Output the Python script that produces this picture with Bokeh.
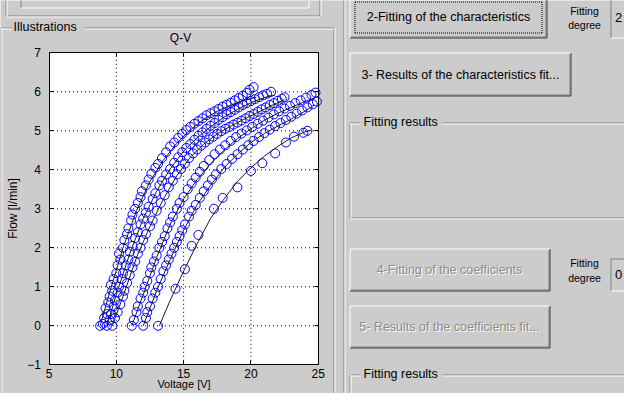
from bokeh.plotting import figure
from bokeh.models import Range1d, LinearAxis, FixedTicker
from bokeh.embed import file_html
from bokeh.resources import INLINE
from bokeh.core.properties import value

# ---------------- data ----------------
X_TICKS = [5, 10, 15, 20, 25]
Y_TICKS = [-1, 0, 1, 2, 3, 4, 5, 6, 7]

a_x = [8.8, 9.0, 9.1, 9.3, 9.2, 9.4, 9.5, 9.7, 9.6, 9.8, 10.0, 10.1, 10.3, 10.2, 10.5, 10.6, 10.8, 10.9, 11.1, 11.2,
       11.4, 11.6, 11.8, 11.9, 12.2, 12.4, 12.6, 12.9, 13.1, 13.4, 13.7, 14.0, 14.3, 14.6, 14.9, 15.2, 15.5, 15.8,
       16.1, 16.4, 16.7, 17.0, 17.3, 17.6, 17.9, 18.2, 18.5, 18.8, 19.1, 19.4, 19.7, 19.9, 20.2]
a_y = [0.0, 0.05, 0.2, 0.3, 0.45, 0.6, 0.75, 0.9, 1.05, 1.2, 1.35, 1.55, 1.7, 1.85, 2.0, 2.2, 2.35, 2.5, 2.7, 2.85,
       3.0, 3.15, 3.3, 3.45, 3.6, 3.75, 3.9, 4.05, 4.15, 4.3, 4.45, 4.6, 4.7, 4.82, 4.92, 5.02, 5.1, 5.18,
       5.25, 5.32, 5.4, 5.45, 5.5, 5.56, 5.62, 5.67, 5.72, 5.78, 5.84, 5.9, 5.97, 6.05, 6.12]

b_x = [9.3, 9.5, 9.6, 9.8, 9.9, 10.1, 10.2, 10.4, 10.5, 10.7, 10.9, 11.0, 11.2, 11.4, 11.6, 11.8, 12.0, 12.2, 12.4,
       12.7, 12.9, 13.2, 13.4, 13.7, 14.0, 14.3, 14.6, 14.9, 15.2, 15.5, 15.8, 16.1, 16.4, 16.7, 17.0, 17.3, 17.6,
       17.9, 18.2, 18.5, 18.8, 19.1, 19.4, 19.7, 20.0, 20.3, 20.6, 20.9, 21.2, 21.5]
b_y = [0.0, 0.15, 0.3, 0.5, 0.65, 0.85, 1.0, 1.2, 1.35, 1.55, 1.7, 1.9, 2.05, 2.25, 2.4, 2.6, 2.75, 2.9, 3.05,
       3.25, 3.4, 3.6, 3.72, 3.88, 4.02, 4.18, 4.32, 4.45, 4.56, 4.66, 4.77, 4.87, 4.96, 5.05, 5.13, 5.2, 5.28,
       5.35, 5.42, 5.48, 5.54, 5.6, 5.66, 5.71, 5.76, 5.81, 5.86, 5.91, 5.95, 6.0]

c_x = [9.7, 9.9, 10.1, 10.3, 10.5, 10.6, 10.8, 11.0, 11.2, 11.4, 11.6, 11.8, 12.0, 12.2, 12.5, 12.7, 13.0, 13.3,
       13.6, 13.9, 14.2, 14.5, 14.8, 15.1, 15.4, 15.7, 16.0, 16.3, 16.6, 16.9, 17.2, 17.5, 17.8, 18.1, 18.4, 18.7,
       19.0, 19.3, 19.6, 19.9, 20.2, 20.5, 20.8, 21.1, 21.4, 21.7, 22.0, 22.3, 22.5]
c_y = [0.0, 0.2, 0.35, 0.55, 0.75, 0.9, 1.1, 1.3, 1.5, 1.65, 1.85, 2.0, 2.2, 2.35, 2.55, 2.7, 2.95, 3.15,
       3.35, 3.55, 3.72, 3.88, 4.02, 4.16, 4.3, 4.42, 4.52, 4.62, 4.7, 4.78, 4.85, 4.92, 4.99, 5.05, 5.1, 5.16,
       5.21, 5.26, 5.32, 5.38, 5.43, 5.49, 5.55, 5.6, 5.66, 5.71, 5.77, 5.82, 5.86]

d_x = [11.15, 11.3, 11.5, 11.6, 11.8, 12.0, 12.1, 12.3, 12.5, 12.6, 12.8, 13.0, 13.2, 13.4, 13.6, 13.8, 14.0, 14.2,
       14.5, 14.7, 15.0, 15.3, 15.6, 15.9, 16.2, 16.5, 16.9, 17.3, 17.7, 18.1, 18.5, 18.9, 19.3, 19.7, 20.1, 20.5,
       20.9, 21.3, 21.7, 22.1, 22.5, 22.9, 23.3, 23.7, 24.1, 24.5, 24.8]
d_y = [0.0, 0.15, 0.35, 0.5, 0.7, 0.85, 1.0, 1.15, 1.35, 1.5, 1.65, 1.8, 2.0, 2.15, 2.3, 2.5, 2.65, 2.8,
       3.0, 3.15, 3.3, 3.5, 3.65, 3.8, 3.95, 4.1, 4.25, 4.4, 4.52, 4.63, 4.74, 4.84, 4.93, 5.01, 5.1, 5.18,
       5.26, 5.34, 5.42, 5.5, 5.57, 5.64, 5.71, 5.78, 5.85, 5.92, 5.98]

e_x = [12.0, 12.2, 12.3, 12.5, 12.7, 12.9, 13.1, 13.3, 13.5, 13.7, 13.9, 14.1, 14.3, 14.5, 14.7, 14.9, 15.1, 15.4,
       15.6, 15.9, 16.2, 16.5, 16.8, 17.1, 17.4, 17.8, 18.2, 18.6, 19.0, 19.4, 19.8, 20.2, 20.6, 21.0, 21.4, 21.8,
       22.2, 22.6, 23.0, 23.4, 23.8, 24.2, 24.6, 24.9]
e_y = [0.0, 0.2, 0.35, 0.5, 0.7, 0.85, 1.0, 1.2, 1.4, 1.55, 1.7, 1.85, 2.0, 2.15, 2.3, 2.45, 2.6, 2.8,
       2.95, 3.1, 3.28, 3.45, 3.6, 3.75, 3.88, 4.02, 4.15, 4.28, 4.4, 4.52, 4.63, 4.74, 4.84, 4.94, 5.03, 5.12,
       5.2, 5.28, 5.36, 5.44, 5.52, 5.6, 5.68, 5.75]

f_x = [13.1, 14.4, 15.1, 15.6, 16.1, 17.25, 17.9, 19.0, 20.0, 20.85, 21.8, 22.6, 23.2, 23.9, 24.2]
f_y = [0.0, 0.95, 1.45, 2.05, 2.33, 3.0, 3.28, 3.55, 3.97, 4.17, 4.42, 4.7, 4.85, 4.95, 5.0]

# fitted characteristics (black lines)
fa_x = [8.8, 9.5, 10.5, 11.5, 12.5, 13.5, 14.5, 15.5, 16.5, 17.5, 18.5, 19.5, 20.4]
fa_y = [0.0, 0.85, 2.0, 2.95, 3.7, 4.25, 4.68, 5.02, 5.3, 5.5, 5.66, 5.78, 5.86]
fb_x = [9.3, 10.0, 11.0, 12.0, 13.0, 14.0, 15.0, 16.0, 17.0, 18.0, 19.0, 20.0, 21.0, 21.8]
fb_y = [0.0, 0.8, 1.85, 2.75, 3.45, 4.02, 4.48, 4.82, 5.1, 5.35, 5.55, 5.72, 5.85, 5.92]
fc_x = [9.7, 10.5, 11.5, 12.5, 13.5, 14.5, 15.5, 16.5, 17.5, 18.5, 19.5, 20.5, 21.5, 22.5]
fc_y = [0.0, 0.75, 1.75, 2.55, 3.25, 3.85, 4.32, 4.66, 4.92, 5.12, 5.3, 5.47, 5.64, 5.8]
fd_x = [11.15, 12.0, 13.0, 14.0, 15.0, 16.0, 17.0, 18.0, 19.0, 20.0, 21.0, 22.0, 23.0, 24.0, 24.8]
fd_y = [0.0, 0.8, 1.75, 2.6, 3.25, 3.75, 4.15, 4.5, 4.8, 5.05, 5.27, 5.45, 5.6, 5.75, 5.85]
fe_x = [12.0, 13.0, 14.0, 15.0, 16.0, 17.0, 18.0, 19.0, 20.0, 21.0, 22.0, 23.0, 24.0, 24.7]
fe_y = [0.0, 0.9, 1.7, 2.45, 3.1, 3.6, 4.05, 4.4, 4.7, 4.93, 5.12, 5.3, 5.5, 5.66]
ff_x = [13.2, 14.0, 15.0, 16.0, 17.0, 18.0, 19.0, 20.0, 21.0, 22.0, 23.0, 24.0, 24.5]
ff_y = [0.0, 0.65, 1.4, 2.1, 2.75, 3.25, 3.7, 4.05, 4.35, 4.6, 4.82, 4.97, 5.02]

DATA = [(a_x, a_y), (b_x, b_y), (c_x, c_y), (d_x, d_y), (e_x, e_y), (f_x, f_y)]
FITS = [(fa_x, fa_y), (fb_x, fb_y), (fc_x, fc_y), (fd_x, fd_y), (fe_x, fe_y), (ff_x, ff_y)]

# ---------------- layout ----------------
W, H = 624, 393
M = 8
FL, FR, FT, FB = 56.5, 325.7, 60.3, 372.3      # axes box in window pixels
XMIN, XMAX, YMIN, YMAX = 5, 25, -1, 7
sx = (FR - FL) / (XMAX - XMIN)
sy = (FB - FT) / (YMAX - YMIN)
xr = Range1d(XMIN - (FL - M) / sx, XMIN + (M + W - FL) / sx)
yr = Range1d(YMIN - (M + H - FB) / sy, YMAX + (FT - M) / sy)

BG = "#cccccc"
DARK = "#808080"
WHITE = "#ffffff"
BLACK = "#404040"
FONT = value("Liberation Sans")

p = figure(width=W, height=H, x_range=xr, y_range=yr, output_backend="svg",
           toolbar_location=None, min_border=0, x_axis_type=None, y_axis_type=None)
p.outline_line_color = None
p.background_fill_color = BG
p.border_fill_color = BG
p.extra_x_ranges = {"px": Range1d(M, M + W)}
p.extra_y_ranges = {"px": Range1d(M + H, M)}

# ---------- GUI decoration (window pixel coordinates) ----------
segs = {DARK: [], WHITE: [], BLACK: []}

def seg(c, xa, ya, xb, yb):
    segs[c].append((xa, ya, xb, yb))

def etched_h(xa, xb, y):
    seg(DARK, xa, y, xb, y)
    seg(WHITE, xa, y + 1, xb, y + 1)

def etched_v(x, ya, yb):
    seg(DARK, x, ya, x, yb)
    seg(WHITE, x + 1, ya, x + 1, yb)

def raised(l, t, r, b):
    seg(WHITE, l, t, r, t)
    seg(WHITE, l, t, l, b)
    seg(BLACK, l, b, r, b)
    seg(BLACK, r, t, r, b)
    seg(DARK, l + 1, b - 1, r - 1, b - 1)
    seg(DARK, r - 1, t + 1, r - 1, b - 1)

def sunken(l, t, r, b):
    seg(DARK, l, t, r, t)
    seg(DARK, l, t, l, b)
    seg(WHITE, l, b, r, b)

def group(l, t, r, b, g0, g1):
    etched_h(l, g0, t)
    etched_h(g1, r, t)
    etched_v(l, t, b)
    etched_v(r, t, b)
    etched_h(l, r, b)

# top-left panel (cut off)
etched_v(13.5, 0, 23.5)
etched_v(327.5, 0, 23.5)
etched_h(13.5, 328.5, 23.5)
sunken(28.5, 0, 316.5, 15.5)
seg(WHITE, 316.5, 0, 316.5, 15.5)
# Illustrations group
group(8.5, 35.5, 341.5, 420, 19, 93)
# separator
etched_v(351.5, 0, 420)
# right side controls
raised(357.5, 4.5, 554.5, 45.5)
raised(357.5, 60.5, 578.5, 103.5)
raised(357.5, 256.5, 557.5, 298.5)
raised(357.5, 313.5, 557.5, 355.5)
sunken(618.5, 4.5, 660, 45.5)
sunken(618.5, 266.5, 660, 298.5)
group(357.5, 130.5, 660, 225.5, 368, 450)
group(357.5, 382.5, 660, 460, 368, 450)

for c, lst in segs.items():
    p.segment(x0=[s[0] for s in lst], y0=[s[1] for s in lst], x1=[s[2] for s in lst], y1=[s[3] for s in lst],
              line_color=c, line_width=1, x_range_name="px", y_range_name="px")

# focus rectangle on button 2
p.segment(x0=[362.5, 362.5, 362.5, 549.5], y0=[9.5, 40.5, 9.5, 9.5],
          x1=[549.5, 549.5, 362.5, 549.5], y1=[9.5, 40.5, 40.5, 40.5],
          line_color="#000000", line_dash="1 1", line_width=1, x_range_name="px", y_range_name="px")

def txt(xs, ys, ts, size, color="#000000", align="center"):
    p.text(x=xs, y=ys, text=ts, x_range_name="px", y_range_name="px", text_font=FONT,
           text_font_size=size, text_color=color, text_align=align, text_baseline="middle")

txt([456, 468], [24, 82], ["2-Fitting of the characteristics", "3- Results of the characteristics fit..."], "12.5px")
txt([21, 371, 371], [34.5, 129, 381], ["Illustrations", "Fitting results", "Fitting results"], "12.5px", align="left")
txt([592, 592, 592, 592], [18, 32, 270, 285], ["Fitting", "degree", "Fitting", "degree"], "10.5px")
txt([626, 626], [25, 282], ["2", "0"], "13px")
txt([458, 458], [278, 335], ["4-Fitting of the coefficients", "5- Results of the coefficients fit..."], "12.5px", color=WHITE)
txt([457, 457], [277, 334], ["4-Fitting of the coefficients", "5- Results of the coefficients fit..."], "12.5px", color="#8a8a8a")
txt([188], [45], ["Q-V"], "12px")

# ---------- axes ----------
p.quad(left=[XMIN], right=[XMAX], bottom=[YMIN], top=[YMAX], fill_color="white", line_color=None)
gx = X_TICKS[1:-1]
gy = Y_TICKS[1:-1]
p.segment(x0=gx, y0=[YMIN] * len(gx), x1=gx, y1=[YMAX] * len(gx), line_color="#000000", line_dash="1 3", line_width=1)
p.segment(x0=[XMIN] * len(gy), y0=gy, x1=[XMAX] * len(gy), y1=gy, line_color="#000000", line_dash="1 3", line_width=1)

for xs, ys in DATA:
    p.scatter(xs, ys, marker="circle", size=9, fill_color=None, line_color="#0000ff", line_width=1)
for xs, ys in FITS:
    p.line(xs, ys, line_color="#1a1a1a", line_width=1)

def style(ax):
    ax.major_tick_in = 4
    ax.major_tick_out = 0
    ax.minor_tick_line_color = None
    ax.axis_line_color = "#000000"
    ax.major_tick_line_color = "#000000"
    ax.major_label_text_font = "Liberation Sans"
    ax.major_label_text_font_size = "12px"
    ax.major_label_text_color = "#000000"
    ax.axis_label_text_font = "Liberation Sans"
    ax.axis_label_text_font_size = "12px"
    ax.axis_label_text_font_style = "normal"
    ax.axis_label_text_color = "#000000"

xb = LinearAxis(fixed_location=YMIN, bounds=(XMIN, XMAX), ticker=FixedTicker(ticks=X_TICKS), axis_label="Voltage [V]")
style(xb)
xb.major_label_standoff = 4
xb.axis_label_standoff = -3
xb.axis_label_text_font_size = "11px"
p.add_layout(xb, "below")

yl = LinearAxis(fixed_location=XMIN, bounds=(YMIN, YMAX), ticker=FixedTicker(ticks=Y_TICKS), axis_label="Flow [l/min]")
style(yl)
yl.major_label_standoff = 8
yl.axis_label_standoff = 5
p.add_layout(yl, "left")

xt = LinearAxis(fixed_location=YMAX, bounds=(XMIN, XMAX), ticker=FixedTicker(ticks=X_TICKS),
                major_label_overrides={t: "" for t in X_TICKS})
style(xt)
p.add_layout(xt, "above")

yrt = LinearAxis(fixed_location=XMAX, bounds=(YMIN, YMAX), ticker=FixedTicker(ticks=Y_TICKS),
                 major_label_overrides={t: "" for t in Y_TICKS})
style(yrt)
p.add_layout(yrt, "right")

open("out.html", "w").write(file_html(p, INLINE))
